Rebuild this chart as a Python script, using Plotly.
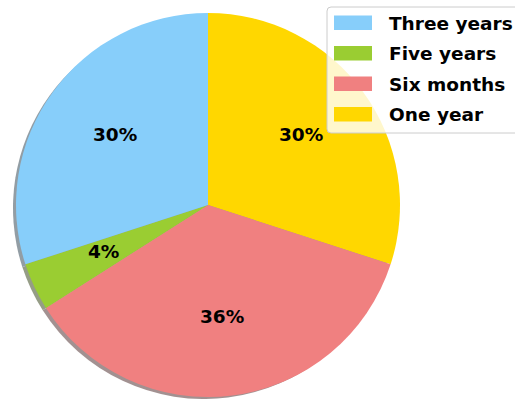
import math
import plotly.graph_objects as go

labels = ["Three years", "Five years", "Six months", "One year"]
values = [30, 4, 36, 30]
colors = ["#87CEFA", "#9ACD32", "#F08080", "#FFD700"]

W, H = 515, 399
CX, CY, R = 208, 205, 192   # pie centre / radius in pixels
SH = 4                      # shadow offset in pixels


def px_x(x):
    return x / W


def px_y(y):
    return min(1.0, max(0.0, 1 - y / H))


def shade(hexcol):
    r, g, b = (int(hexcol[i:i + 2], 16) for i in (1, 3, 5))
    return "rgb({},{},{})".format(int(0.3 * r), int(0.3 * g), int(0.3 * b))


# slices run counter-clockwise from 12 o'clock in the listed order;
# plotly draws clockwise from 12 o'clock, so hand it the reversed order
rl = labels[::-1]
rv = values[::-1]
rc = colors[::-1]

fig = go.Figure()

# shadow (bottom clipped at the page edge, so radius slightly reduced)
s_top = CY + SH - R
s_r = (H - s_top) / 2
s_cx = CX - SH
fig.add_trace(go.Pie(
    labels=rl, values=rv, sort=False, direction="clockwise", rotation=0,
    marker=dict(colors=[shade(c) for c in rc], line=dict(width=0)),
    opacity=0.5, textinfo="none", hoverinfo="skip", showlegend=False,
    domain=dict(x=[px_x(s_cx - s_r), px_x(s_cx + s_r)], y=[0.0, px_y(s_top)]),
))

# pie
fig.add_trace(go.Pie(
    labels=rl, values=rv, sort=False, direction="clockwise", rotation=0,
    marker=dict(colors=rc, line=dict(width=0)),
    textinfo="none", showlegend=False,
    domain=dict(x=[px_x(CX - R), px_x(CX + R)], y=[px_y(CY + R), px_y(CY - R)]),
))

# percentage labels at 0.6 radius
total = sum(values)
ang = 90.0
for v in values:
    span = 360.0 * v / total
    mid = math.radians(ang + span / 2)
    ang += span
    x = CX + 0.6 * R * math.cos(mid)
    y = CY - 0.6 * R * math.sin(mid)
    fig.add_annotation(x=px_x(x), y=px_y(y), xref="paper", yref="paper",
                       xanchor="center", yanchor="middle", yshift=3,
                       text="<b>{:.0f}%</b>".format(100 * v / total), showarrow=False,
                       font=dict(family="DejaVu Sans", size=18.5, color="black"))

# legend (drawn manually to match frame and patch sizes)
lx0, ly0, lx1, ly1, rad = 327, 7, 540, 133, 4
path = ("M {a},{b} L {c},{b} Q {d},{b} {d},{e} L {d},{f} Q {d},{g} {c},{g} "
        "L {a},{g} Q {h},{g} {h},{f} L {h},{e} Q {h},{b} {a},{b} Z").format(
    a=lx0 / W + rad / W, b=1 - ly0 / H, c=(lx1 - rad) / W, d=lx1 / W,
    e=1 - (ly0 + rad) / H, f=1 - (ly1 - rad) / H, g=1 - ly1 / H, h=lx0 / W)
fig.add_shape(type="path", path=path, xref="paper", yref="paper",
              fillcolor="rgba(255,255,255,0.8)", line=dict(color="#cccccc", width=1))

for i, (lab, col) in enumerate(zip(labels, colors)):
    top = 15.5 + i * 30.5
    fig.add_shape(type="rect", xref="paper", yref="paper",
                  x0=px_x(334), x1=px_x(372), y0=px_y(top), y1=px_y(top + 14.5),
                  fillcolor=col, line=dict(width=0))
    fig.add_annotation(x=px_x(387), y=px_y(top + 7.5), xref="paper", yref="paper",
                       xanchor="left", yanchor="middle", showarrow=False,
                       text="<b>{}</b>".format(lab),
                       font=dict(family="DejaVu Sans", size=18.5, color="black"))

fig.update_layout(width=W, height=H, margin=dict(l=0, r=0, t=0, b=0),
                  paper_bgcolor="white", plot_bgcolor="white", showlegend=False)

fig.write_html("out.html")
